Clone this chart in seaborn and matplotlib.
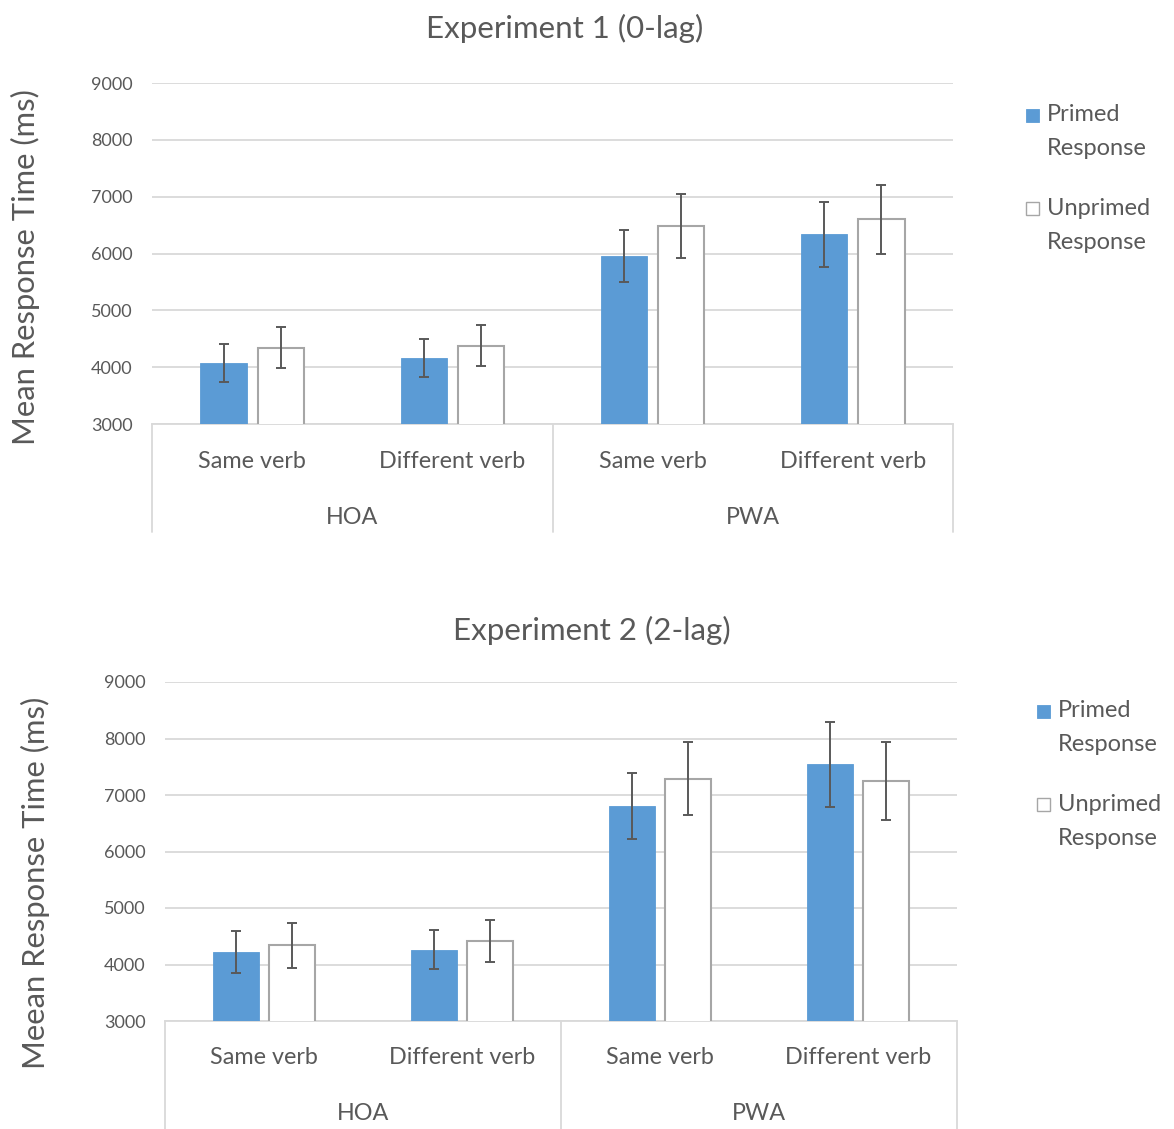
import numpy as np
import pandas as pd
import matplotlib
matplotlib.use("Agg")
import matplotlib.pyplot as plt
import matplotlib.patches as mpatches
from matplotlib.legend_handler import HandlerPatch
import matplotlib.transforms as mtrans
import seaborn as sns

# ---------------- data ----------------
groups = ["HOA", "HOA", "PWA", "PWA"]
verbs = ["Same verb", "Different verb", "Same verb", "Different verb"]
conditions = ["Primed\nResponse", "Unprimed\nResponse"]

exp1_primed = [4080, 4160, 5950, 6340]
exp1_unprimed = [4340, 4380, 6480, 6600]
exp1_primed_err = [335, 335, 460, 570]
exp1_unprimed_err = [360, 355, 560, 605]

exp2_primed = [4220, 4265, 6810, 7540]
exp2_unprimed = [4340, 4415, 7290, 7240]
exp2_primed_err = [370, 345, 585, 745]
exp2_unprimed_err = [395, 365, 640, 690]

titles = ["Experiment 1 (0-lag)", "Experiment 2 (2-lag)"]
ylabels = ["Mean Response Time (ms)", "Meean Response Time (ms)"]
yticks = [3000, 4000, 5000, 6000, 7000, 8000, 9000]

# ---------------- style ----------------
sns.set_theme(style="white")
plt.rcParams["font.family"] = ["Lato", "DejaVu Sans"]
TXT = "#595959"
GRID = "#D9D9D9"
BLUE = "#5B9BD5"
EDGE = "#A6A6A6"
ERR = "#595959"

W, H = 1174, 1129
fig = plt.figure(figsize=(W / 100, H / 100), dpi=100)

LEG_FS = 17


def px_axes(l, t, r, b):
    return fig.add_axes([l / W, 1 - b / H, (r - l) / W, (b - t) / H])


class TopHandler(HandlerPatch):
    def __init__(self, shift, **kw):
        super().__init__(**kw)
        self.shift = shift

    def create_artists(self, legend, orig_handle, xdescent, ydescent,
                       width, height, fontsize, trans):
        s = min(width, height)
        p = mpatches.Rectangle((-xdescent, -ydescent + self.shift * fontsize), s, s,
                               facecolor=orig_handle.get_facecolor(),
                               edgecolor=orig_handle.get_edgecolor(),
                               linewidth=orig_handle.get_linewidth(),
                               transform=trans)
        return [p]


def draw(ax_rect, primed, unprimed, perr, uerr, title, ylabel, title_xy, ylab_xy, leg_xy):
    ax = px_axes(*ax_rect)
    keys = [f"{g}|{v}" for g, v in zip(groups, verbs)]
    df = pd.DataFrame({
        "key": keys * 2,
        "cond": [conditions[0]] * 4 + [conditions[1]] * 4,
        "value": list(primed) + list(unprimed),
    })
    sns.barplot(data=df, x="key", y="value", hue="cond", order=keys,
                hue_order=conditions, palette=[BLUE, "white"], saturation=1,
                width=0.57, gap=0.19, errorbar=None, legend=False, ax=ax,
                zorder=3)
    for bar in ax.containers[0]:
        bar.set_edgecolor(BLUE)
        bar.set_linewidth(0.6)
    for bar in ax.containers[1]:
        bar.set_edgecolor(EDGE)
        bar.set_linewidth(1.5)
    for cont, err in zip(ax.containers, [perr, uerr]):
        xs = [b.get_x() + b.get_width() / 2 for b in cont]
        ys = [b.get_height() for b in cont]
        ax.errorbar(xs, ys, yerr=err, fmt="none", ecolor=ERR, elinewidth=1.4,
                    capsize=3.6, capthick=1.4, zorder=4)

    ax.set_ylim(3000, 9000)
    ax.set_xlim(-0.5, 3.5)
    ax.set_yticks(yticks)
    ax.yaxis.grid(True, color=GRID, linewidth=1.3, zorder=0)
    ax.set_axisbelow(True)
    for s in ["top", "right", "left"]:
        ax.spines[s].set_visible(False)
    ax.spines["bottom"].set_color(GRID)
    ax.spines["bottom"].set_linewidth(1.3)
    ax.tick_params(axis="y", length=0, labelsize=13, labelcolor=TXT, pad=14)
    ax.tick_params(axis="x", length=0, labelbottom=False)
    ax.set_xlabel("")
    ax.set_ylabel("")

    hpx = ax_rect[3] - ax_rect[1]
    tr = mtrans.blended_transform_factory(ax.transData, ax.transAxes)
    for i, v in enumerate(verbs):
        ax.text(i, -37 / hpx, v, transform=tr, ha="center", va="center",
                fontsize=16.8, color=TXT)
    for gx, g in [(0.5, "HOA"), (2.5, "PWA")]:
        ax.text(gx, -93 / hpx, g, transform=tr, ha="center", va="center",
                fontsize=16.8, color=TXT)
    for sx in [-0.5, 1.5, 3.5]:
        ax.plot([sx, sx], [0, -108 / hpx], transform=tr, color=GRID,
                linewidth=1.3, clip_on=False)

    fig.text(title_xy[0] / W, 1 - title_xy[1] / H, title, ha="center", va="center",
             fontsize=22.5, color=TXT)
    fig.text(ylab_xy[0] / W, 1 - ylab_xy[1] / H, ylabel, ha="center", va="center",
             rotation=90, fontsize=22.3, color=TXT)

    handles = [mpatches.Patch(facecolor=BLUE, edgecolor=BLUE, linewidth=0.6),
               mpatches.Patch(facecolor="white", edgecolor=EDGE, linewidth=1.0)]
    leg = fig.legend(handles, conditions, loc="upper left",
                     bbox_to_anchor=(leg_xy[0] / W, 1 - leg_xy[1] / H),
                     frameon=False, fontsize=LEG_FS, labelcolor=TXT,
                     handlelength=0.55, handleheight=0.55, handletextpad=0.3,
                     labelspacing=1.64, borderaxespad=0,
                     handler_map={mpatches.Patch: TopHandler(shift=0.74)})
    for t in leg.get_texts():
        t.set_linespacing(1.76)
    return ax


draw((152, 83, 953, 424), exp1_primed, exp1_unprimed, exp1_primed_err, exp1_unprimed_err,
     titles[0], ylabels[0], (565, 28), (25, 267), (1017, 95))
draw((165, 682, 957, 1021), exp2_primed, exp2_unprimed, exp2_primed_err, exp2_unprimed_err,
     titles[1], ylabels[1], (592, 630), (35, 883), (1028, 691))

fig.savefig("out.png", dpi=100, facecolor="white")
